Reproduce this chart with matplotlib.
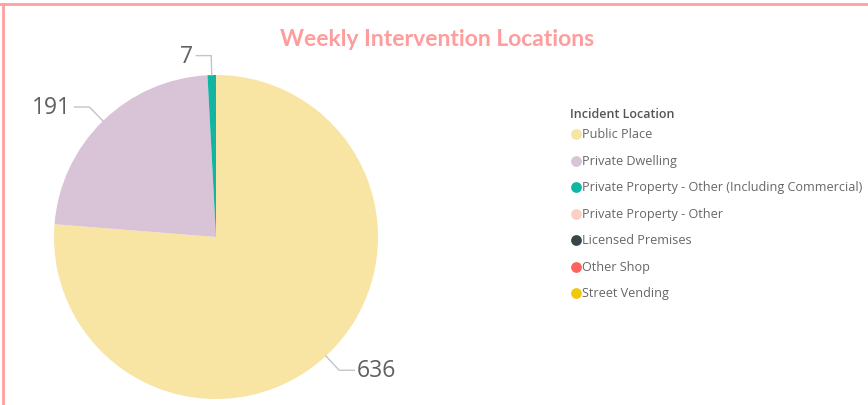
import matplotlib.pyplot as plt
import numpy as np
from matplotlib.lines import Line2D

# --- data ---
locations = ['Public Place', 'Private Dwelling', 'Private Property - Other (Including Commercial)',
             'Private Property - Other', 'Licensed Premises', 'Other Shop', 'Street Vending']
counts = [636, 191, 7, 0, 0, 0, 0]
colors = ['#F8E5A4', '#D9C3D6', '#11B5A2', '#FDD1C1', '#374649', '#FD625E', '#F2C80F']

W, H = 868, 406
fig = plt.figure(figsize=(W / 100, H / 100), dpi=100)
ax = fig.add_axes([0, 0, 1, 1])

# pie in pixel coordinates (y up)
cx, cy, R = 216, H - 238, 162
vals = [c for c in counts if c > 0]
cols = [colors[i] for i, c in enumerate(counts) if c > 0]
wedges, _ = ax.pie(vals, colors=cols, startangle=90, counterclock=False,
                   center=(cx, cy), radius=R, wedgeprops=dict(linewidth=0))
ax.set_xlim(0, W)
ax.set_ylim(0, H)
ax.set_aspect('equal')
ax.axis('off')

# data labels with leader lines
for w, v in zip(wedges, vals):
    ang = np.deg2rad((w.theta1 + w.theta2) / 2)
    c, s = np.cos(ang), np.sin(ang)
    x0, y0 = cx + R * c, cy + R * s
    x1, y1 = cx + R * 1.12 * c, cy + R * 1.12 * s
    side = -1 if c < 0 else 1
    x2 = x1 + side * 15
    ax.plot([x0, x1, x2], [y0, y1, y1], color='#C4C4C4', lw=1, solid_joinstyle='round')
    ax.text(x2 + side * 3, y1, str(v), ha='right' if side < 0 else 'left', va='center',
            fontsize=16.5, color='#606060', family='Open Sans')

# title
fig.text(437 / W, 1 - 40 / H, 'Weekly Intervention Locations', ha='center', va='center',
         fontsize=16.5, fontweight='bold', color='#FF9C9C', family='Lato')

# legend
fig.text(570 / W, 1 - 114 / H, 'Incident Location', ha='left', va='center',
         fontsize=9, color='#555555', family='Open Sans', fontweight='semibold')
for i, (name, col) in enumerate(zip(locations, colors)):
    y = 135 + i * 26.5
    ax.scatter([576], [H - y], s=60, color=col, linewidths=0)
    fig.text(582 / W, 1 - y / H, name, ha='left', va='center',
             fontsize=9.1, color='#666666', family='Open Sans')

# frame lines
fig.add_artist(Line2D([0, 1], [1 - 5 / H, 1 - 5 / H], color='#FFA0A0', lw=2))
fig.add_artist(Line2D([2.5 / W, 2.5 / W], [0, 1 - 5 / H], color='#FFA0A0', lw=2))

fig.savefig('out.png', dpi=100)
